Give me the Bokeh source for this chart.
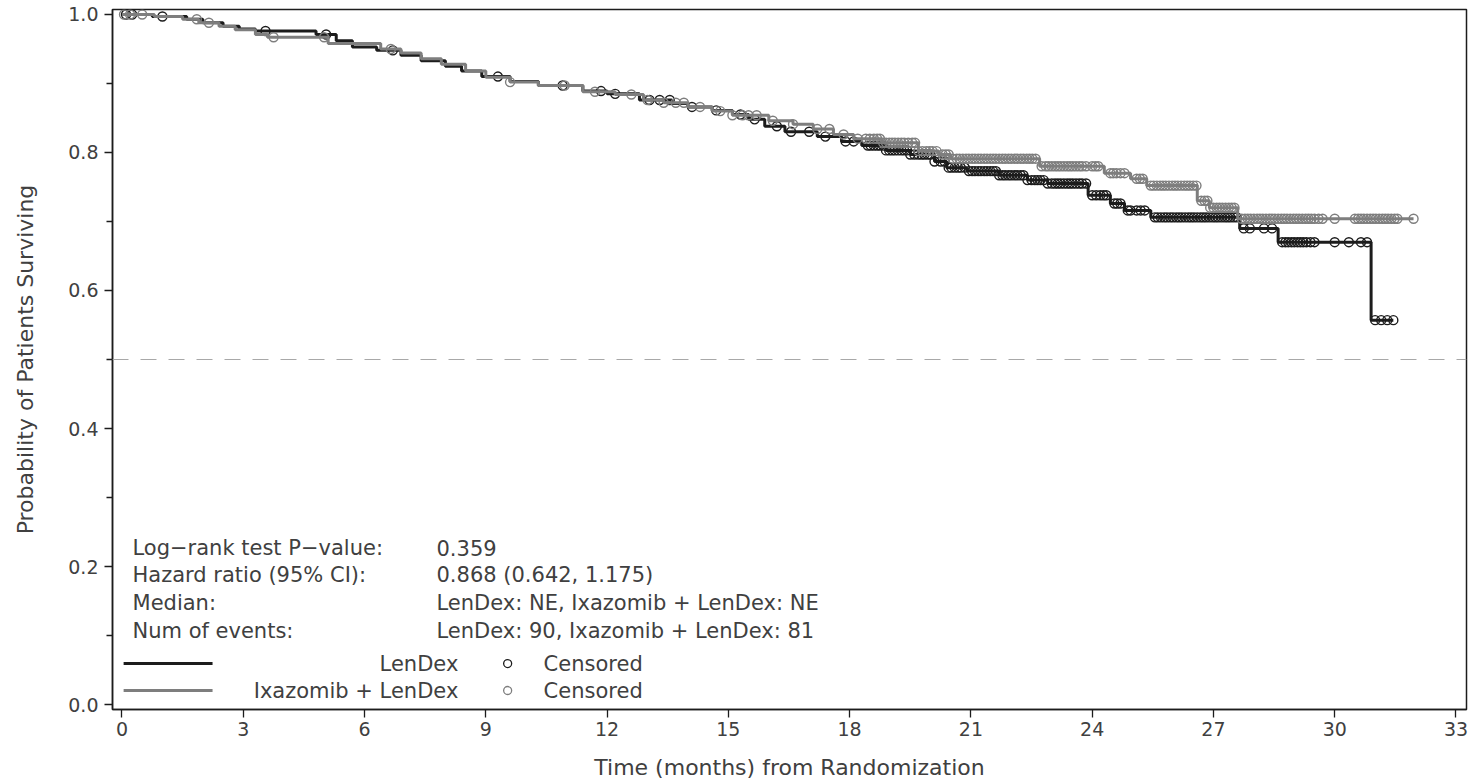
import numpy as np
from bokeh.plotting import figure
from bokeh.models import Range1d, FixedTicker, Span, Label, PrintfTickFormatter
from bokeh.embed import file_html
from bokeh.resources import INLINE

# ---- Kaplan-Meier estimates: event times (months) and survival after each event ----
lendex_event_t = [0.75, 1.6, 2.0, 2.5, 2.9, 3.3, 4.8, 5.3, 5.7, 6.3, 6.9, 7.4, 8.0, 8.4, 8.9,
                  9.6, 10.3, 11.4, 12.0, 12.8, 13.6, 14.0, 14.6, 15.1, 15.5, 15.9, 16.4, 17.2,
                  17.8, 18.3, 18.9, 19.5, 20.1, 20.4, 20.9, 21.7, 22.4, 22.9, 23.9, 24.45, 24.8,
                  25.45, 27.65, 28.6, 30.9]
lendex_event_s = [0.997, 0.993, 0.988, 0.983, 0.979, 0.976, 0.971, 0.962, 0.953, 0.948, 0.941,
                  0.933, 0.925, 0.918, 0.910, 0.903, 0.897, 0.889, 0.885, 0.876, 0.871, 0.866,
                  0.861, 0.855, 0.848, 0.838, 0.830, 0.823, 0.816, 0.810, 0.803, 0.797, 0.787,
                  0.778, 0.773, 0.767, 0.760, 0.755, 0.738, 0.726, 0.716, 0.706, 0.690, 0.670,
                  0.557]
lendex_censor_t = [0.1, 0.25, 1.0, 3.55, 5.05, 6.7, 9.3, 10.9, 11.85, 12.2, 13.05, 13.3, 13.55,
                   14.1, 14.7, 15.3, 15.65, 16.2, 16.55, 17.0, 17.4, 17.9, 18.1, 18.45, 18.52,
                   18.6, 18.68, 18.75, 18.83, 18.9, 18.98, 19.05, 19.12, 19.2, 19.28, 19.35,
                   19.42, 19.5, 19.6, 19.7, 19.78, 19.85, 19.93, 20.0, 20.1, 20.25, 20.35, 20.45,
                   20.52, 20.6, 20.68, 20.75, 20.85, 20.95, 21.03, 21.1, 21.18, 21.25, 21.33,
                   21.4, 21.48, 21.55, 21.62, 21.7, 21.78, 21.85, 21.93, 22.0, 22.08, 22.15,
                   22.23, 22.3, 22.4, 22.5, 22.58, 22.65, 22.72, 22.8, 22.9, 23.0, 23.08, 23.15,
                   23.22, 23.3, 23.38, 23.45, 23.52, 23.6, 23.68, 23.75, 23.85, 24.0, 24.1, 24.2,
                   24.28, 24.35, 24.55, 24.62, 24.7, 24.88, 24.95, 25.1, 25.2, 25.3, 25.55, 25.62,
                   25.7, 25.78, 25.85, 25.93, 26.0, 26.08, 26.15, 26.22, 26.3, 26.38, 26.45,
                   26.52, 26.6, 26.68, 26.75, 26.82, 26.9, 26.98, 27.05, 27.12, 27.2, 27.28,
                   27.35, 27.42, 27.5, 27.58, 27.75, 27.9, 28.25, 28.45, 28.7, 28.78, 28.85,
                   28.93, 29.0, 29.08, 29.15, 29.22, 29.3, 29.4, 29.5, 30.0, 30.35, 30.65, 30.8,
                   31.0, 31.15, 31.3, 31.45]

ixa_event_t = [0.8, 1.5, 1.9, 2.4, 2.8, 3.3, 3.6, 5.1, 6.4, 6.9, 7.4, 7.9, 8.5, 9.0, 9.6, 10.3,
               11.4, 12.2, 12.9, 13.4, 14.0, 14.6, 15.1, 16.0, 16.6, 17.1, 17.6, 18.1, 18.8,
               19.7, 20.2, 20.5, 22.7, 24.3, 24.95, 25.35, 26.6, 26.9, 27.6]
ixa_event_s = [0.997, 0.993, 0.988, 0.983, 0.978, 0.971, 0.967, 0.958, 0.950, 0.944, 0.936,
               0.928, 0.918, 0.909, 0.902, 0.897, 0.888, 0.884, 0.876, 0.872, 0.866, 0.860,
               0.854, 0.846, 0.841, 0.834, 0.826, 0.820, 0.814, 0.802, 0.797, 0.791, 0.780,
               0.770, 0.762, 0.752, 0.730, 0.720, 0.704]
ixa_censor_t = [0.05, 0.2, 0.5, 1.85, 2.15, 3.75, 5.0, 6.65, 9.6, 10.95, 11.7, 12.6, 13.0, 13.4,
                13.7, 13.9, 14.3, 14.8, 15.1, 15.35, 15.5, 15.7, 16.1, 16.6, 17.2, 17.5, 17.85,
                18.2, 18.4, 18.5, 18.6, 18.68, 18.75, 18.83, 18.9, 18.98, 19.05, 19.12, 19.2,
                19.28, 19.35, 19.45, 19.55, 19.62, 19.7, 19.8, 19.9, 19.98, 20.05, 20.15, 20.3,
                20.38, 20.45, 20.55, 20.65, 20.72, 20.8, 20.88, 20.95, 21.03, 21.1, 21.18,
                21.25, 21.33, 21.4, 21.48, 21.55, 21.62, 21.7, 21.78, 21.85, 21.93, 22.0, 22.08,
                22.15, 22.23, 22.3, 22.38, 22.45, 22.52, 22.6, 22.75, 22.85, 22.92, 23.0, 23.08,
                23.15, 23.22, 23.3, 23.38, 23.45, 23.52, 23.6, 23.68, 23.75, 23.85, 24.0, 24.08,
                24.15, 24.45, 24.52, 24.6, 24.7, 24.8, 25.1, 25.18, 25.25, 25.45, 25.52, 25.6,
                25.68, 25.75, 25.82, 25.9, 25.98, 26.05, 26.12, 26.2, 26.28, 26.35, 26.42, 26.5,
                26.58, 26.7, 26.78, 26.85, 26.92, 27.0, 27.08, 27.15, 27.22, 27.3, 27.38, 27.45,
                27.52, 27.7, 27.78, 27.85, 27.92, 28.0, 28.08, 28.15, 28.22, 28.3, 28.38, 28.45,
                28.52, 28.6, 28.68, 28.75, 28.82, 28.9, 28.98, 29.05, 29.12, 29.2, 29.28, 29.35,
                29.42, 29.5, 29.6, 29.7, 30.0, 30.5, 30.58, 30.65, 30.72, 30.8, 30.88, 30.95,
                31.02, 31.1, 31.18, 31.25, 31.32, 31.4, 31.48, 31.55, 31.95]

series_names = ["LenDex", "Ixazomib + LenDex"]
x_ticks = [0, 3, 6, 9, 12, 15, 18, 21, 24, 27, 30, 33]
y_ticks = [0.0, 0.2, 0.4, 0.6, 0.8, 1.0]
y_minor_ticks = [0.1, 0.3, 0.5, 0.7, 0.9]
median_line = 0.5

stat_names = ["Log\u2212rank test P\u2212value:", "Hazard ratio (95% CI):", "Median:", "Num of events:"]
stat_values = ["0.359", "0.868 (0.642, 1.175)",
               "LenDex: NE, Ixazomib + LenDex: NE",
               "LenDex: 90, Ixazomib + LenDex: 81"]

FONT = "DejaVu Sans"
TXT = "#404040"
DARK = "#1c1c1c"
GREY = "#7e7e7e"


def km_path(ev_t, ev_s, censor_t):
    end = max(max(censor_t), ev_t[-1])
    xs = [0.0] + list(ev_t) + [end]
    ys = [1.0] + list(ev_s) + [ev_s[-1]]
    return xs, ys


def censor_marks(ev_t, ev_s, censor_t):
    t = np.asarray(ev_t)
    s = np.concatenate([[1.0], np.asarray(ev_s)])
    idx = np.searchsorted(t, np.asarray(censor_t), side="right")
    return list(censor_t), list(s[idx])


p = figure(width=1474, height=782, output_backend="svg", toolbar_location=None,
           x_range=Range1d(-0.235, 33.26), y_range=Range1d(-0.0072, 1.0072),
           min_border_left=112, min_border_right=8, min_border_top=9, min_border_bottom=73)
p.xgrid.visible = False
p.ygrid.visible = False
p.outline_line_color = DARK
p.outline_line_width = 1.5
p.background_fill_color = "white"
p.border_fill_color = "white"

p.xaxis.ticker = FixedTicker(ticks=x_ticks)
p.yaxis.ticker = FixedTicker(ticks=y_ticks, minor_ticks=y_minor_ticks)
p.yaxis.formatter = PrintfTickFormatter(format="%.1f")
for ax in (p.xaxis[0], p.yaxis[0]):
    ax.axis_line_color = DARK
    ax.axis_line_width = 1.5
    ax.major_tick_line_color = DARK
    ax.major_tick_line_width = 1.3
    ax.major_tick_out = 8
    ax.major_tick_in = 0
    ax.minor_tick_line_color = DARK
    ax.minor_tick_line_width = 1.3
    ax.minor_tick_out = 6
    ax.minor_tick_in = 0
    ax.major_label_text_font = FONT
    ax.major_label_text_font_size = "19px"
    ax.major_label_text_color = TXT
    ax.axis_label_text_font = FONT
    ax.axis_label_text_font_size = "22px"
    ax.axis_label_text_font_style = "normal"
    ax.axis_label_text_color = TXT
p.xaxis.minor_tick_line_color = None
p.xaxis.major_label_standoff = 4
p.yaxis.major_label_standoff = 6
p.xaxis.axis_label = "Time (months) from Randomization"
p.yaxis.axis_label = "Probability of Patients Surviving"
p.xaxis.axis_label_standoff = 16
p.yaxis.axis_label_standoff = 27

p.add_layout(Span(location=median_line, dimension="width", line_color="#a8a8a8",
                  line_width=1, line_dash="16 12"))

# survival curves with censoring marks
for ev_t, ev_s, cen_t, color in ((lendex_event_t, lendex_event_s, lendex_censor_t, DARK),
                                 (ixa_event_t, ixa_event_s, ixa_censor_t, GREY)):
    xs, ys = km_path(ev_t, ev_s, cen_t)
    p.step(xs, ys, mode="after", line_color=color, line_width=3)
    cx, cy = censor_marks(ev_t, ev_s, cen_t)
    p.scatter(cx, cy, marker="circle", size=9, fill_color=None,
              line_color=color, line_width=1.4)

# summary statistics block
stat_rows_y = [0.2275, 0.187, 0.1478, 0.1072]
for name, val, yy in zip(stat_names, stat_values, stat_rows_y):
    for xx, txt in ((0.26, name), (7.78, val)):
        p.add_layout(Label(x=xx, y=yy, text=txt, text_baseline="middle", text_align="left",
                           text_font=FONT, text_font_size="21px", text_color=TXT))

# legend key
legend_rows_y = [0.0594, 0.0203]
for name, color, yy in zip(series_names, (DARK, GREY), legend_rows_y):
    p.line([0.04, 2.24], [yy, yy], line_color=color, line_width=3)
    p.add_layout(Label(x=8.32, y=yy, text=name, text_baseline="middle", text_align="right",
                       text_font=FONT, text_font_size="21px", text_color=TXT))
    p.scatter([9.54], [yy], marker="circle", size=8, fill_color=None,
              line_color=color, line_width=1.3)
    p.add_layout(Label(x=10.43, y=yy, text="Censored", text_baseline="middle", text_align="left",
                       text_font=FONT, text_font_size="21px", text_color=TXT))

open("out.html", "w").write(file_html(p, INLINE))
